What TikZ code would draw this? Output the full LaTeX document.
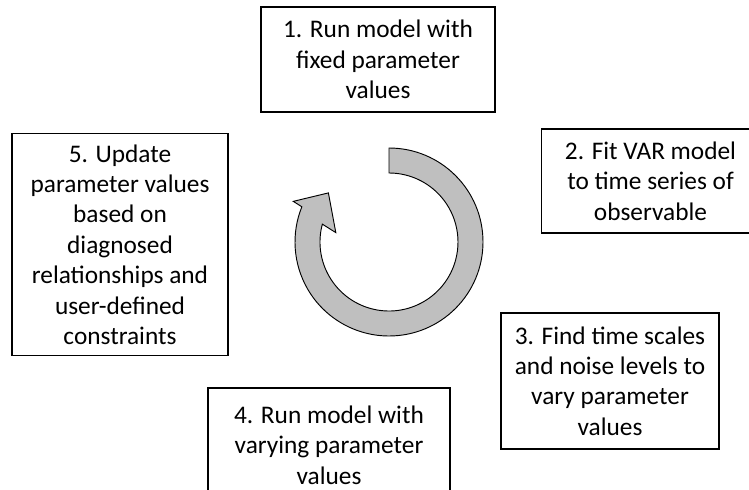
\documentclass[tikz,border=0pt]{standalone}
\usepackage{fontspec}
\setmainfont{Carlito}
\usepackage{tikz}
\usetikzlibrary{calc}

\begin{document}
\begin{tikzpicture}[x=0.75pt,y=0.75pt,
    stepbox/.style={draw,line width=0.9pt,align=center,inner sep=0pt,
      font=\fontsize{19pt}{22.8pt}\selectfont},
    cyclefill/.style={draw,line width=0.7pt,fill=black!25,line join=miter}]
    \clip (0,0) rectangle (749,489);
    % the five steps
    \node[stepbox,minimum width=175.5pt,minimum height=78.75pt] (run1) at (378,429.5) {1. Run model with\\fixed parameter\\values};
    \node[stepbox,minimum width=164pt,minimum height=78pt] (fit2) at (650.5,308) {2. Fit VAR model\\to time series of\\observable};
    \node[stepbox,minimum width=163.5pt,minimum height=102pt] (find3) at (610,108) {3. Find time scales\\and noise levels to\\vary parameter\\values};
    \node[stepbox,minimum width=181.5pt,minimum height=85.5pt] (run4) at (329,44) {4. Run model with\\varying parameter\\values};
    \node[stepbox,minimum width=162pt,minimum height=166pt] (update5) at (120,244.5) {5. Update\\parameter values\\based on\\diagnosed\\relationships and\\user-defined\\constraints};
    % circular arrow
    \coordinate (c) at (389,247);
    \draw[cyclefill] ([shift={(90:94)}]c) arc[start angle=90,end angle=-202,radius=94]
      -- ([shift={(157:104)}]c) -- ([shift={(141:78)}]c) -- ([shift={(170:54)}]c)
      -- ([shift={(-195:69)}]c) arc[start angle=-195,end angle=90,radius=69] -- cycle;
\end{tikzpicture}
\end{document}
